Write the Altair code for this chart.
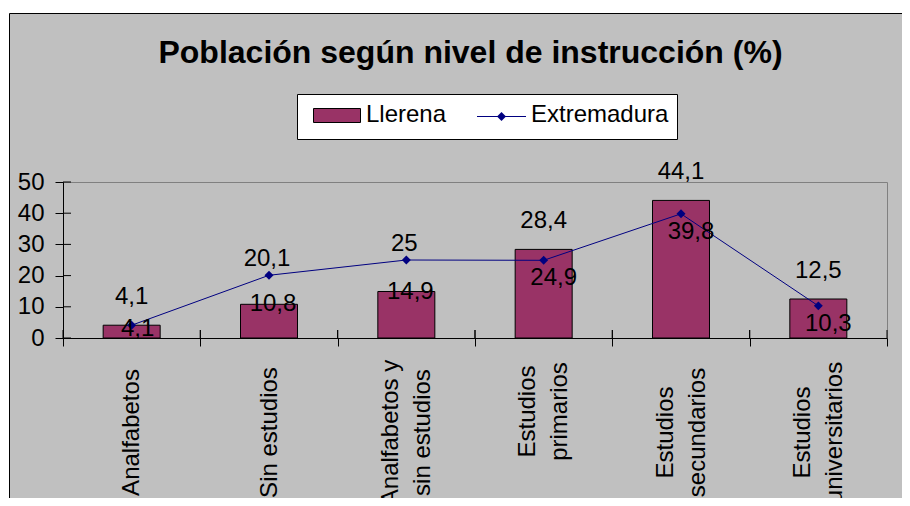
import json
import altair as alt
import pandas as pd

# ---------------- data ----------------
CATEGORIAS = ["Analfabetos", "Sin estudios", "Analfabetos y sin estudios",
              "Estudios primarios", "Estudios secundarios", "Estudios universitarios"]
LLERENA = [4.1, 10.8, 14.9, 28.4, 44.1, 12.5]
EXTREMADURA = [4.1, 20.1, 25.0, 24.9, 39.8, 10.3]
SERIES = ["Llerena", "Extremadura"]
Y_TICKS = [0, 10, 20, 30, 40, 50]
TITULO = "Población según nivel de instrucción (%)"
# wrapped axis labels (text only)
LINEAS_X = {
    "Analfabetos y sin estudios": ["Analfabetos y", "sin estudios"],
    "Estudios primarios": ["Estudios", "primarios"],
    "Estudios secundarios": ["Estudios", "secundarios"],
    "Estudios universitarios": ["Estudios", "universitarios"],
}
# label placement classes (styling only)
POS_LLERENA = ["arriba", "borde", "borde", "arriba", "arriba", "arriba"]
POS_EXTREMADURA = ["centro", "arriba", "arriba", "abajo", "abajo", "abajo"]

# ---------------- style ----------------
FONT = "Liberation Sans"
GRIS = "#C0C0C0"
GRANATE = "#993366"
AZUL = "#000080"
W, H = 824, 156
HALF_STEP = W / len(CATEGORIAS) / 2
LINE_H = 32


def fmt(v):
    return f"{v:g}".replace(".", ",")


df = pd.DataFrame({
    "categoria": CATEGORIAS,
    "llerena": LLERENA,
    "extremadura": EXTREMADURA,
    "et_ll": [fmt(v) for v in LLERENA],
    "et_ex": [fmt(v) for v in EXTREMADURA],
    "pos_ll": POS_LLERENA,
    "pos_ex": POS_EXTREMADURA,
})

label_expr = "datum.label"
for k, lines in reversed(list(LINEAS_X.items())):
    label_expr = f"datum.label == {json.dumps(k, ensure_ascii=False)} ? {json.dumps(lines, ensure_ascii=False)} : ({label_expr})"

multi_test = " || ".join(f"datum.value == {json.dumps(k, ensure_ascii=False)}" for k in LINEAS_X)

x_scale = alt.Scale(paddingInner=0, paddingOuter=0)
y_scale = alt.Scale(domain=[0, 50], nice=False, zero=True)

x_axis = alt.Axis(labelAngle=-90, labelAlign="center", labelBaseline="middle",
                  labelPadding={"condition": {"test": "datum.value == 'Estudios primarios'", "value": 65},
                                "value": 86},
                  labelOffset={"condition": {"test": multi_test, "value": -LINE_H / 2},
                               "value": 0},
                  labelFontSize=24, labelLineHeight=LINE_H,
                  labelExpr=label_expr, tickBand="extent", tickSize=8,
                  labelOverlap=False, labelLimit=400, labelFont=FONT,
                  labelColor="black", domainColor="black", tickColor="black",
                  grid=False)
y_axis = alt.Axis(values=Y_TICKS, tickSize=8, labelPadding=11, labelFontSize=24,
                  labelFont=FONT, labelColor="black", domainColor="black",
                  tickColor="black", grid=False)


def X():
    return alt.X("categoria:N", sort=CATEGORIAS, title=None, scale=x_scale, axis=x_axis)


def Y(field):
    return alt.Y(field, title=None, scale=y_scale, axis=y_axis)


base = alt.Chart(df)
uno = pd.DataFrame({"k": [0]})

# frame of the chart area (white outer strips + black border lines)
franja_sup = alt.Chart(uno).mark_rect(fill="white").encode(
    x=alt.value(-60), x2=alt.value(900), y=alt.value(-180), y2=alt.value(-168.5))
franja_izq = alt.Chart(uno).mark_rect(fill="white").encode(
    x=alt.value(-60), x2=alt.value(-53.5), y=alt.value(-180), y2=alt.value(500))
borde_sup = alt.Chart(uno).mark_rule(color="black", strokeWidth=1).encode(
    x=alt.value(-53.5), x2=alt.value(900), y=alt.value(-168.5))
borde_izq = alt.Chart(uno).mark_rule(color="black", strokeWidth=1).encode(
    x=alt.value(-53.5), y=alt.value(-168.5), y2=alt.value(500))

# title
titulo = alt.Chart(pd.DataFrame({"t": [TITULO]})).mark_text(
    font=FONT, fontSize=32, fontWeight="bold", color="black",
    align="center", baseline="alphabetic").encode(
    text="t:N", x=alt.value(407.5), y=alt.value(-119))

# legend
leg_caja = alt.Chart(uno).mark_rect(fill="white", stroke="black", strokeWidth=1).encode(
    x=alt.value(234.5), x2=alt.value(614.5), y=alt.value(-87.5), y2=alt.value(-42.5))
leg_barra = alt.Chart(uno).mark_rect(fill=GRANATE, stroke="black", strokeWidth=1).encode(
    x=alt.value(250.5), x2=alt.value(297.5), y=alt.value(-73.5), y2=alt.value(-59.5))
leg_txt1 = alt.Chart(pd.DataFrame({"s": [SERIES[0]]})).mark_text(
    font=FONT, fontSize=24, color="black", align="left", baseline="alphabetic").encode(
    text="s:N", x=alt.value(303), y=alt.value(-60))
leg_linea = alt.Chart(uno).mark_rule(color=AZUL, strokeWidth=1).encode(
    x=alt.value(414), x2=alt.value(463), y=alt.value(-65.5))
leg_punto = alt.Chart(uno).mark_point(shape="diamond", filled=True, size=80,
                                      color=AZUL, opacity=1).encode(
    x=alt.value(438.5), y=alt.value(-65.5))
leg_txt2 = alt.Chart(pd.DataFrame({"s": [SERIES[1]]})).mark_text(
    font=FONT, fontSize=24, color="black", align="left", baseline="alphabetic").encode(
    text="s:N", x=alt.value(468), y=alt.value(-60))

# bars
barras = base.mark_bar(color=GRANATE, stroke="black", strokeWidth=1,
                       width=alt.RelativeBandSize(0.415)).encode(x=X(), y=Y("llerena:Q"))

# inner halves of the crossing ticks
ticks_y = alt.Chart(pd.DataFrame({"v": Y_TICKS})).mark_rule(color="black", strokeWidth=1).encode(
    y=Y("v:Q"), x=alt.value(0), x2=alt.value(8))
ticks_x0 = base.mark_rule(color="black", strokeWidth=1, xOffset=-HALF_STEP).encode(
    x=X(), y=alt.value(H - 8), y2=alt.value(H))
ticks_x1 = base.mark_rule(color="black", strokeWidth=1, xOffset=HALF_STEP).encode(
    x=X(), y=alt.value(H - 8), y2=alt.value(H))

# line
linea = base.mark_line(color=AZUL, strokeWidth=1).encode(x=X(), y=Y("extremadura:Q"))
puntos = base.mark_point(shape="diamond", filled=True, size=80, color=AZUL,
                         opacity=1).encode(x=X(), y=Y("extremadura:Q"))

# data labels
TXT = dict(font=FONT, fontSize=24, color="black", baseline="middle", align="center")
OFF_LL = {"arriba": (0, -28), "borde": (4, 0)}
OFF_EX = {"arriba": (-2, -16), "abajo": (10, 18), "centro": (6, 4)}

etiquetas = []
for pos, (dx, dy) in OFF_LL.items():
    etiquetas.append(base.transform_filter(alt.datum.pos_ll == pos).mark_text(dx=dx, dy=dy, **TXT).encode(
        x=X(), y=Y("llerena:Q"), text="et_ll:N"))
for pos, (dx, dy) in OFF_EX.items():
    etiquetas.append(base.transform_filter(alt.datum.pos_ex == pos).mark_text(dx=dx, dy=dy, **TXT).encode(
        x=X(), y=Y("extremadura:Q"), text="et_ex:N"))

chart = alt.layer(
    franja_sup, franja_izq, borde_sup, borde_izq, titulo,
    leg_caja, leg_barra, leg_txt1, leg_linea, leg_punto, leg_txt2,
    barras, ticks_y, ticks_x0, ticks_x1, linea, puntos, *etiquetas
).properties(
    width=W, height=H,
    autosize=alt.AutoSizeParams(type="none"),
    padding={"left": 55, "top": 174, "right": 15, "bottom": 160},
    background=GRIS,
).configure_view(stroke="#808080", strokeWidth=1)

chart.save("out.html", embed_options={"renderer": "svg", "actions": False})
